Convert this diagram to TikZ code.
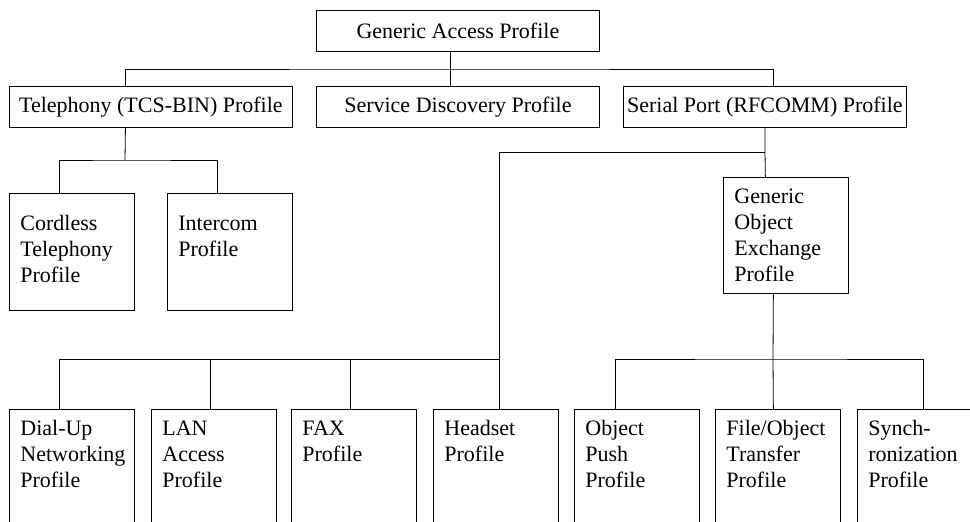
\documentclass[tikz,border=0pt]{standalone}
\usepackage{fontspec}
\setmainfont{Liberation Serif}
\usepackage{tikz}

\begin{document}
\begin{tikzpicture}[x=0.75pt,y=-0.75pt,line width=0.6pt,
    font=\fontsize{16.5}{19.5}\selectfont,
    widebox/.style={draw,anchor=north west,minimum width=212.25pt,minimum height=31pt,inner sep=0pt},
    tallbox/.style={draw,anchor=north west,align=left,text width=77.25pt,minimum width=93.75pt,
        inner xsep=8.25pt,inner ysep=0pt,text height=19.5pt,text depth=#1},
    tallbox/.default=78.75pt]
    \useasboundingbox (0,0) rectangle (970,521);
    \clip (0,0) rectangle (970,521);

    \node[widebox] (gap) at (316,10) {Generic Access Profile};
    \node[widebox] (tel) at (9,86) {Telephony (TCS-BIN) Profile};
    \node[widebox] (sdp) at (316,86) {Service Discovery Profile};
    \node[widebox] (ser) at (623,86) {Serial Port (RFCOMM) Profile};

    \node[tallbox=60pt,text height=27.75pt] (ctp) at (9,193) {Cordless\\Telephony\\Profile};
    \node[tallbox=60pt,text height=27.75pt] (icp) at (167,193) {Intercom\\Profile};
    \node[tallbox=67.5pt] (goep) at (723,177) {Generic\\Object\\Exchange\\Profile};

    \node[tallbox] (dun) at (9,409) {Dial-Up\\Networking\\Profile};
    \node[tallbox] (lan) at (151,409) {LAN\\Access\\Profile};
    \node[tallbox] (fax) at (291,409) {FAX\\Profile};
    \node[tallbox] (hs) at (433,409) {Headset\\Profile};
    \node[tallbox] (opp) at (574,409) {Object\\Push\\Profile};
    \node[tallbox] (fot) at (715,409) {File/Object\\Transfer\\Profile};
    \node[tallbox] (syn) at (857,409) {Synch-\\ronization\\Profile};

    % bus junctions
    \coordinate (topbus) at (450,69);
    \coordinate (telbus) at (125,160);
    \coordinate (serbus) at (765,152);
    \coordinate (lowbus) at (499,359);
    \coordinate (goepbus) at (773,359);

    \draw ([xshift=-5.6pt]gap.south) -- ([xshift=-5.6pt]sdp.north);
    \draw ([xshift=-19.1pt]tel.north) |- (topbus) -| ([xshift=6pt]ser.north);

    \draw ([xshift=-19.1pt]tel.south) -- (telbus);
    \draw ([xshift=-9.4pt]ctp.north) |- (telbus) -| ([xshift=-9.4pt]icp.north);

    \draw (ser.south) -- (serbus) -- ([xshift=-15.4pt]goep.north);
    \draw (serbus) -| ([xshift=2.6pt]hs.north);
    \draw ([xshift=-9.4pt]dun.north) |- (lowbus);
    \draw ([xshift=-3pt]lan.north) -- ([xshift=-3pt]lan.north |- lowbus);
    \draw ([xshift=-2.6pt]fax.north) -- ([xshift=-2.6pt]fax.north |- lowbus);

    \draw ([xshift=-9.4pt]goep.south) -- (goepbus) -- ([xshift=-3.4pt]fot.north);
    \draw ([xshift=-16.1pt]opp.north) |- (goepbus) -| ([xshift=2.6pt]syn.north);
\end{tikzpicture}
\end{document}
